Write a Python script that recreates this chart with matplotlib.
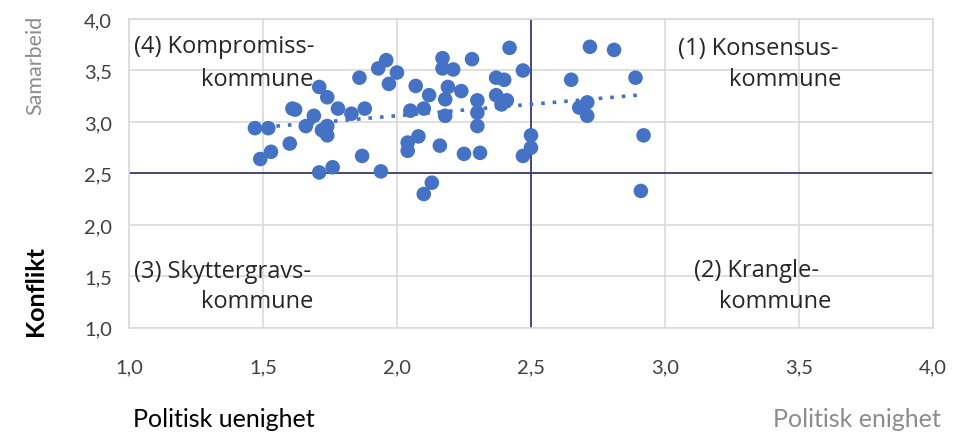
#!/usr/bin/env python3
# -*- coding: utf-8 -*-

import numpy as np
import matplotlib
matplotlib.use("Agg")
import matplotlib.pyplot as plt
from matplotlib.ticker import FuncFormatter


# ============================================================
# Data (lest av fra figuren)
# ============================================================

enighet = [
    1.47, 1.52, 1.49, 1.53, 1.60, 1.61, 1.62, 1.66, 1.69, 1.71,
    1.74, 1.72, 1.74, 1.74, 1.78, 1.71, 1.76, 1.83, 1.88, 1.86,
    1.87, 1.94, 1.93, 1.96, 2.00, 1.97, 2.05, 2.07, 2.04, 2.04,
    2.08, 2.10, 2.12, 2.13, 2.10, 2.16, 2.17, 2.17, 2.21, 2.19,
    2.18, 2.18, 2.24, 2.28, 2.30, 2.30, 2.30, 2.25, 2.31, 2.37,
    2.40, 2.37, 2.41, 2.39, 2.42, 2.47, 2.50, 2.50, 2.47, 2.72,
    2.81, 2.65, 2.89, 2.71, 2.68, 2.71, 2.92, 2.91,
]

samarbeid = [
    2.94, 2.94, 2.64, 2.71, 2.79, 3.13, 3.12, 2.96, 3.06, 3.34,
    3.24, 2.92, 2.96, 2.87, 3.13, 2.51, 2.56, 3.08, 3.13, 3.43,
    2.67, 2.52, 3.52, 3.60, 3.48, 3.37, 3.11, 3.35, 2.80, 2.72,
    2.86, 3.13, 3.26, 2.41, 2.30, 2.77, 3.62, 3.52, 3.51, 3.34,
    3.22, 3.06, 3.30, 3.61, 3.21, 3.09, 2.96, 2.69, 2.70, 3.43,
    3.41, 3.26, 3.21, 3.17, 3.72, 3.50, 2.87, 2.75, 2.67, 3.73,
    3.70, 3.41, 3.43, 3.19, 3.14, 3.06, 2.87, 2.33,
]

ticks = [1.0, 1.5, 2.0, 2.5, 3.0, 3.5, 4.0]

BLUE = "#4472C4"
NAVY = "#3C3C78"
GREY = "#8C8C8C"
DARK = "#262626"

plt.rcParams["font.family"] = ["Lato", "DejaVu Sans"]


# ============================================================
# Figur
# ============================================================

fig = plt.figure(figsize=(9.55, 4.35), dpi=100)
ax = fig.add_axes([0.135, 0.244, 0.842, 0.710])

ax.set_xlim(1.0, 4.0)
ax.set_ylim(1.0, 4.0)
ax.set_xticks(ticks)
ax.set_yticks(ticks)

comma = FuncFormatter(lambda v, _: f"{v:.1f}".replace(".", ","))
ax.xaxis.set_major_formatter(comma)
ax.yaxis.set_major_formatter(comma)

ax.grid(True, color="#D9D9D9", linewidth=1.2, zorder=0)
for side in ax.spines.values():
    side.set_color("#D9D9D9")
    side.set_linewidth(1.2)
ax.tick_params(length=0, labelsize=14.5, colors="#404040", pad=12)
ax.tick_params(axis="x", pad=22)

# kvadrantlinjer
ax.axvline(2.5, color=NAVY, linewidth=1.3, zorder=2)
ax.axhline(2.5, color=NAVY, linewidth=1.3, zorder=2)

# punkter
x = np.array(enighet)
y = np.array(samarbeid)
ax.scatter(x, y, s=110, color=BLUE, edgecolors="none", zorder=3)

# trendlinje
k, m = np.polyfit(x, y, 1)
xs = np.array([x.min() + 0.08, x.max()])
ax.plot(xs, k * xs + m, linestyle=(0, (1, 2.2)), color=BLUE,
        linewidth=2.6, zorder=4)

# kvadranttekster
qfont = dict(fontsize=17, color=DARK, va="center",
             family=["Open Sans", "DejaVu Sans"])
ax.text(1.02, 3.74, "(4) Kompromiss-", **qfont)
ax.text(1.27, 3.42, "kommune", **qfont)
ax.text(3.05, 3.72, "(1) Konsensus-", **qfont)
ax.text(3.24, 3.42, "kommune", **qfont)
ax.text(1.02, 1.55, "(3) Skyttergravs-", **qfont)
ax.text(1.27, 1.26, "kommune", **qfont)
ax.text(3.11, 1.56, "(2) Krangle-", **qfont)
ax.text(3.20, 1.26, "kommune", **qfont)

# aksetekster
fig.text(0.037, 0.85, "Samarbeid", rotation=90, fontsize=15.5, color=GREY,
         ha="center", va="center")
fig.text(0.037, 0.33, "Konflikt", rotation=90, fontsize=18, color="black",
         fontweight="bold", ha="center", va="center")
fig.text(0.139, 0.035, "Politisk uenighet", fontsize=18, color="black",
         ha="left", va="center")
fig.text(0.985, 0.035, "Politisk enighet", fontsize=18, color=GREY,
         ha="right", va="center")

fig.savefig("out.png", dpi=100)
